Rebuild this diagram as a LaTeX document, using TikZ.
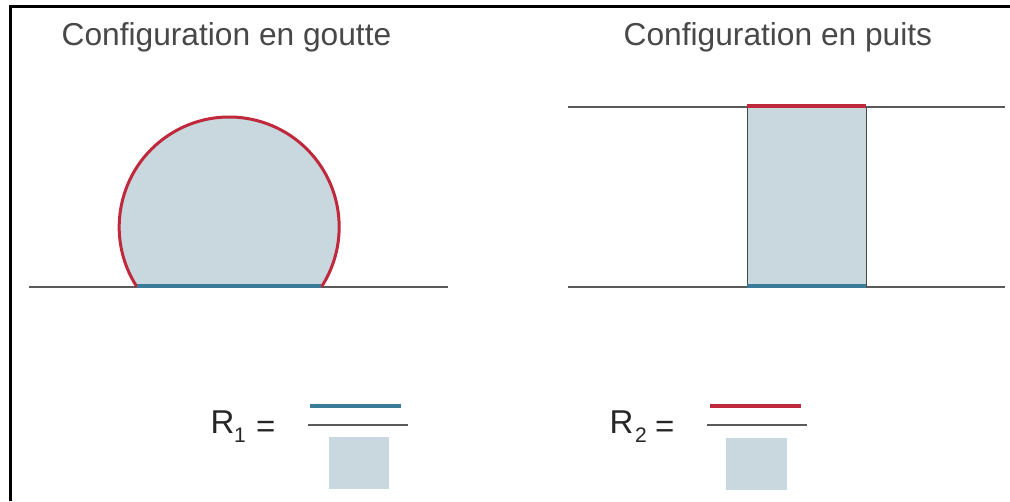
\documentclass[tikz,border=0pt]{standalone}
\usepackage{fontspec}
\setmainfont{Liberation Sans}
\definecolor{dropfill}{HTML}{C8D8DE}
\definecolor{redline}{HTML}{C0283C}
\definecolor{blueline}{HTML}{3A7C98}
\definecolor{graytext}{HTML}{484848}
\definecolor{grayline}{HTML}{5A5A5A}
\begin{document}
\begin{tikzpicture}[x=1pt,y=-1pt,
  title/.style={anchor=base west,inner sep=0pt,text=graytext,font=\fontsize{31.7}{36}\selectfont},
  rlabel/.style={anchor=base west,inner sep=0pt,text=black!85,font=\fontsize{33}{38}\selectfont},
  rsub/.style={anchor=base west,inner sep=0pt,text=black!85,font=\fontsize{21}{24}\selectfont},
  ground/.style={draw=grayline,line width=1.4pt},
  redseg/.style={draw=redline,line width=3.6pt},
  blueseg/.style={draw=blueline,line width=4pt},
  liquid/.style={fill=dropfill}]
\useasboundingbox (0,0) rectangle (1010,501);
\fill[white] (0,0) rectangle (1010,501);
% frame
\draw[line width=3.5pt] (10.5,501) -- (10.5,6.5) -- (1010,6.5);
% titles
\node[title] (t1) at (61.5,45) {Configuration en goutte};
\node[title] (t2) at (623.5,45) {Configuration en puits};
% drop configuration
\fill[liquid] (137,287) arc[start angle=213.06,end angle=-33.06,radius=110pt] -- cycle;
\draw[ground] (29,287) -- (448,287);
\draw[draw=redline,line width=3pt] (137,287) arc[start angle=213.06,end angle=-33.06,radius=110pt];
\draw[blueseg] (137,286) -- (321,286);
% well configuration
\fill[liquid] (747,107) rectangle (866,287);
\draw[ground] (568,107) -- (1005,107);
\draw[ground] (568,287) -- (1005,287);
\draw[draw=grayline!80!black,line width=1pt] (747,107) -- (747,287) (866,107) -- (866,287);
\draw[redseg] (747,106) -- (866,106);
\draw[blueseg] (747,286) -- (866,286);
% R1
\node[rlabel] (r1) at (210.5,433) {R};
\node[rsub] (r1s) at (234,442) {1};
\node[rlabel] (r1e) at (256,437) {=};
\draw[blueseg] (310,406) -- (401,406);
\draw[ground,line width=1.2pt] (308,425) -- (408,425);
\fill[dropfill] (329,437) rectangle (389,489);
% R2
\node[rlabel] (r2) at (609.5,433) {R};
\node[rsub] (r2s) at (635,442) {2};
\node[rlabel] (r2e) at (655,437) {=};
\draw[redseg] (710,406) -- (801,406);
\draw[ground,line width=1.2pt] (707,425) -- (807,425);
\fill[dropfill] (726,438) rectangle (787,490);
\end{tikzpicture}
\end{document}
